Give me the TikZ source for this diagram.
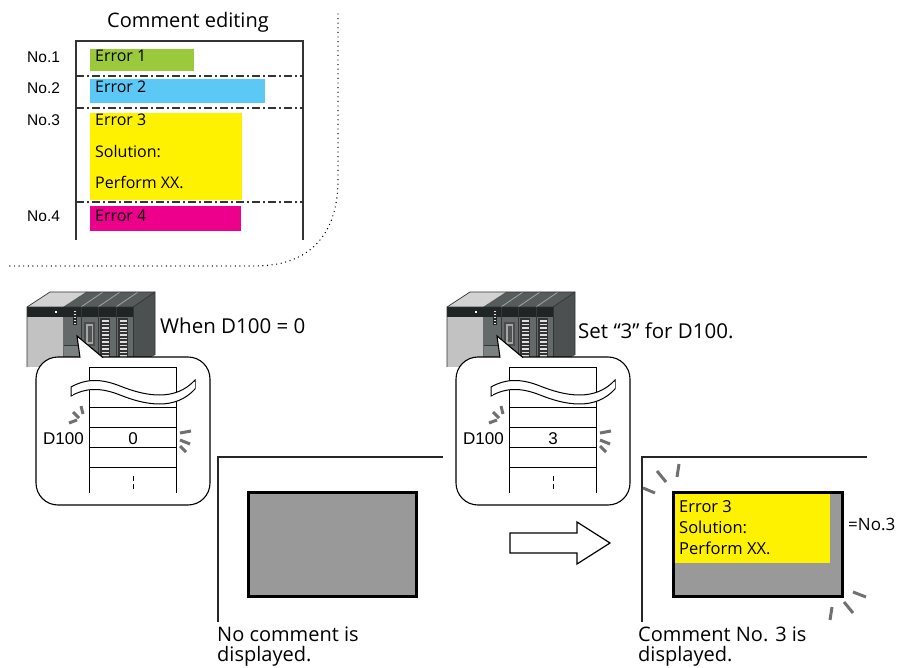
\documentclass[tikz,border=0pt]{standalone}
\usepackage{fontspec}
\setmainfont{Open Sans}
\newfontfamily\arialf{Liberation Sans}
\definecolor{cgreen}{HTML}{9ACA3C}
\definecolor{cblue}{HTML}{5BC8F5}
\definecolor{cyellow}{HTML}{FFF200}
\definecolor{cmagenta}{HTML}{EC008C}
\definecolor{scrgray}{HTML}{999999}
\definecolor{plclight}{HTML}{C2C2C2}
\definecolor{plclighttop}{HTML}{D2D2D2}
\definecolor{plcdark}{HTML}{646969}
\definecolor{plcdarktop}{HTML}{565B5B}
\definecolor{plcside}{HTML}{4B5050}
\definecolor{plcband}{HTML}{1F2525}
\definecolor{sparkgray}{HTML}{707070}
\definecolor{tableline}{HTML}{333333}

\tikzset{
  txt/.style={inner sep=0pt, font=\fontsize{#1}{#1}\selectfont},
  atxt/.style={inner sep=0pt, font=\arialf\fontsize{#1}{#1}\selectfont},
  dashdotline/.style={draw=tableline, line width=1.2pt, dash pattern=on 8pt off 3pt on 2pt off 3pt},
  tableedge/.style={draw=tableline, line width=1.5pt},
  memline/.style={draw=black, line width=1pt},
  spark/.style={draw=sparkgray, line width=3pt},
  frameline/.style={draw=black!85, line width=1.2pt},
  screen/.style={draw=black, line width=2.5pt},
  bubble/.style={draw=black, line width=1.1pt, fill=white, rounded corners=22pt},
}

% PLC rack, speech bubble and memory table; #1 = shift, #2 = name prefix, #3 = value in D100
\newcommand\memview[3]{%
\begin{scope}[shift={(#1,0)}]
  % PLC rack
  \fill[plclighttop] (27,307) -- (50,292) -- (86,292) -- (63,307) -- cycle;
  \fill[plcdarktop] (63,307) -- (86,292) -- (155,292) -- (133,307) -- cycle;
  \foreach \mx in {81,98,116}
    \draw[plcdark!60!white, line width=0.8pt] (\mx,307) -- (\mx+22,292);
  \fill[plcside] (133,307) -- (155,292) -- (155,355) -- (133,367) -- cycle;
  \fill[plclight] (27,307) rectangle (63,367);
  \fill[plcdark] (63,307) rectangle (133,367);
  \fill[plcband] (27,307) rectangle (133,317);
  \fill[white] (55,311) rectangle (57,313);
  \foreach \mx in {81,98,116}
    \draw[plcside!70!black, line width=0.8pt] (\mx,307) -- (\mx,367);
  % CPU module
  \fill[black!85] (73,309) rectangle (77,325);
  \foreach \yy in {311,314,...,323}
    \fill[white!80!gray] (74,\yy) rectangle (76,\yy+1.2);
  \fill[plcdark!85!white] (64,345) rectangle (80,367);
  \draw[plcside!70!black, line width=0.6pt] (64,345) -- (80,345);
  % connector module
  \fill[black!70] (84,322) rectangle (95,346);
  \fill[gray!70] (86,324) rectangle (93,344);
  \fill[plcdark!80!black] (87.5,326) rectangle (91.5,342);
  % I/O modules
  \foreach \mx in {100,118} {
    \fill[black!80] (\mx,318) rectangle (\mx+10,362);
    \foreach \yy in {320,323.5,...,360}
      \fill[white!75!gray] (\mx+1.5,\yy) rectangle (\mx+8.5,\yy+1.6);
  }
  \draw[black!80, line width=0.7pt] (27,367) -- (27,307) -- (50,292) -- (155,292) -- (155,355);
  \draw[black!80, line width=0.7pt] (27,307) -- (133,307) -- (155,292);
  \draw[black!80, line width=0.7pt] (133,307) -- (133,367);
  % speech bubble
  \draw[bubble] (36,357) rectangle (210,505);
  \fill[white] (80,358.2) -- (77,336) -- (103,358.2) -- cycle;
  \draw[black, line width=1.1pt, line join=miter] (80,357.6) -- (77,336) -- (103,357.6);
  % memory table
  \draw[memline] (89,493) -- (89,367) -- (176,367) -- (176,493);
  \foreach \yy in {407,427,447,467}
    \draw[memline] (89,\yy) -- (176,\yy);
  \filldraw[fill=white, draw=black, line width=1pt]
    (71,387) .. controls (85,379) and (100,378) .. (120,386)
    .. controls (145,396) and (175,402) .. (195,380)
    -- (195,389)
    .. controls (175,411) and (145,405) .. (120,395)
    .. controls (100,387) and (85,388) .. (71,396) -- cycle;
  \fill[white] (71.8,388) -- (71.8,395) -- (72.6,395) -- (72.6,388) -- cycle;
  \fill[white] (194.4,381.5) rectangle (193.6,387.5);
  \draw[memline, dash pattern=on 5pt off 3pt] (133,476) -- (133,490);
  \node[atxt=17, anchor=base west] (#2reg) at (43,444) {D100};
  \node[atxt=17, anchor=base] (#2val) at (133,444) {#3};
  % flashing marks
  \draw[spark] (69,423) -- (77,420);
  \draw[spark] (73,412) -- (79,418);
  \draw[spark] (81,406) -- (83,414);
  \draw[spark] (180,433) -- (191,431);
  \draw[spark] (180,440) -- (190,444);
  \draw[spark] (180,446) -- (186,452);
\end{scope}}

\begin{document}
\begin{tikzpicture}[x=1pt, y=-1pt]
\useasboundingbox (0,0) rectangle (902,668);

% ---- comment editing table ----
\node[txt=20, anchor=base west] (title) at (107,28) {Comment editing};
\fill[cgreen] (90,49) rectangle (194,71);
\fill[cblue] (90,79) rectangle (265,103);
\fill[cyellow] (90,113) rectangle (242,200);
\fill[cmagenta] (90,206) rectangle (241,231);
\draw[tableedge] (76,240) -- (76,41) -- (303,41) -- (303,240);
\foreach \yy in {76,108,202}
  \draw[dashdotline] (76,\yy) -- (303,\yy);
\node[txt=16, anchor=base west] (e1) at (95,62) {Error 1};
\node[txt=16, anchor=base west] (e2) at (95,93) {Error 2};
\node[txt=16, anchor=base west] (e3a) at (95,126) {Error 3};
\node[txt=16, anchor=base west] (e3b) at (95,158) {Solution:};
\node[txt=16, anchor=base west] (e3c) at (95,189) {Perform XX.};
\node[txt=16, anchor=base west] (e4) at (95,222) {Error 4};
\node[atxt=15.5, anchor=base west] (n1) at (27,63) {No.1};
\node[atxt=15.5, anchor=base west] (n2) at (27,94) {No.2};
\node[atxt=15.5, anchor=base west] (n3) at (27,126) {No.3};
\node[atxt=15.5, anchor=base west] (n4) at (27,222) {No.4};

% dotted boundary of the editing area
\coordinate (dtop) at (338,14);
\coordinate (dleft) at (8,266);
\draw[line width=1.4pt, line cap=round, dash pattern=on 0pt off 4.6pt]
  (dtop) -- (338,180) .. controls (338,232) and (312,266) .. (255,266) -- (dleft);

% ---- PLC memory views ----
\memview{0}{a}{0}
\memview{420}{b}{3}
\node[txt=20.5, anchor=base west] (cond1) at (160,334) {When D100 = 0};
\node[txt=20.5, anchor=base west] (cond2) at (578,338) {Set “3” for D100.};

% ---- display before ----
\coordinate (f1b) at (218,622);
\coordinate (f1c) at (218,457);
\coordinate (f1r) at (443,457);
\draw[frameline] (f1b) -- (f1c) -- (f1r);
\node[screen, fill=scrgray, minimum width=168pt, minimum height=104pt, anchor=north west, inner sep=0pt] (scr1) at (247,491) {};
\node[txt=20, anchor=north west, align=left, font=\fontsize{20}{20}\selectfont] (cap1) at (217,627) {No comment is\\displayed.};

% ---- arrow ----
\draw[line width=1.2pt, fill=white, line join=miter] (510,533) -- (577,533) -- (577,522) -- (610,543) -- (577,564) -- (577,553) -- (510,553) -- cycle;

% ---- display after ----
\coordinate (f2b) at (642,622);
\coordinate (f2c) at (642,457);
\coordinate (f2r) at (867,457);
\draw[frameline] (f2b) -- (f2c) -- (f2r);
\fill[scrgray] (672,491) rectangle (841,595);
\fill[cyellow] (674,493) rectangle (830,563);
\node[screen, minimum width=169pt, minimum height=104pt, anchor=north west, inner sep=0pt] (scr2) at (672,491) {};
\node[txt=16.5, anchor=base west] (s1) at (679,512) {Error 3};
\node[txt=16.5, anchor=base west] (s2) at (679,533) {Solution:};
\node[txt=16.5, anchor=base west] (s3) at (679,554) {Perform XX.};
\node[txt=17, anchor=base west] (eqno) at (848,530) {=No.3};
\node[txt=20, anchor=north west, align=left, font=\fontsize{20}{20}\selectfont] (cap2) at (638,627) {Comment No. 3 is\\displayed.};
\draw[spark] (643,488) -- (655,493);
\draw[spark] (657,471) -- (666,482);
\draw[spark] (679,464) -- (677,477);
\draw[spark] (853,592) -- (866,597);
\draw[spark] (844,602) -- (853,613);
\draw[spark] (832,607) -- (830,620);
\end{tikzpicture}
\end{document}
